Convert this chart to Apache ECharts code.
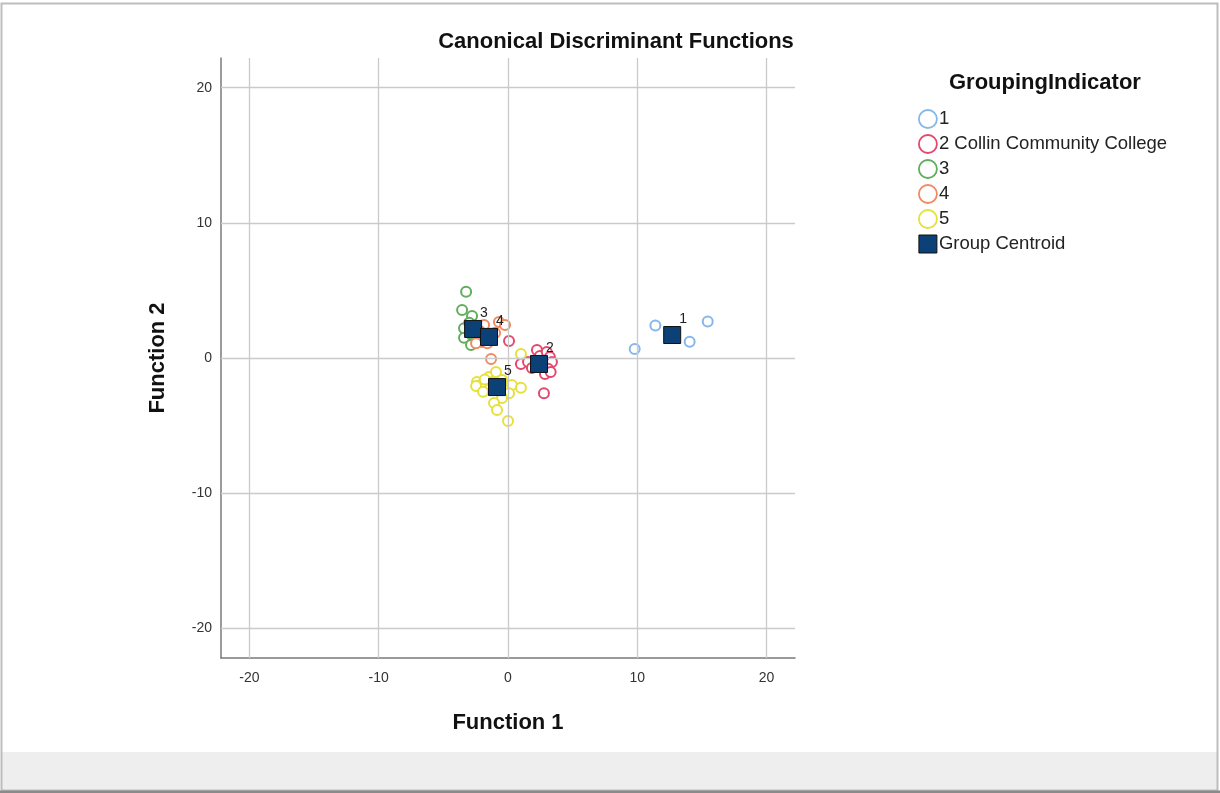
<!DOCTYPE html>
<html>
<head>
<meta charset="utf-8">
<script src="https://cdn.jsdelivr.net/npm/echarts@6/dist/echarts.min.js"></script>
<style>
  html, body { margin: 0; padding: 0; background: #fff; }
  #chart { width: 1220px; height: 793px; }
</style>
</head>
<body>
<div id="chart"></div>
<script>
// discriminant scores, [function 1, function 2]
const group1 = [[9.8, 0.67], [11.4, 2.4], [14.05, 1.2], [15.45, 2.7]];
const group2 = [[0.08, 1.26], [1.0, -0.44], [1.55, -0.3], [1.85, -0.74], [2.24, 0.6], [2.47, 0.15],
  [3.0, 0.44], [3.24, 0.07], [3.4, -0.3], [3.1, -0.8], [2.86, -1.19], [3.3, -1.04], [2.78, -2.6]];
const group3 = [[-3.24, 4.9], [-3.55, 3.56], [-2.78, 3.1], [-3.4, 2.2], [-3.4, 1.5], [-2.86, 0.96],
  [-3.0, 2.6], [-2.3, 1.3], [-2.9, 1.8]];
const group4 = [[-0.7, 2.67], [-0.23, 2.44], [-2.0, 1.19], [-1.6, 1.1], [-2.47, 1.1], [-1.0, 1.85],
  [-1.31, -0.07], [-1.85, 2.44], [-2.2, 2.0]];
const group5 = [[1.0, 0.3], [-2.4, -1.78], [-2.1, -2.0], [-2.47, -2.07], [-1.93, -2.5], [-1.47, -1.4],
  [-0.93, -1.04], [-1.24, -1.78], [-0.46, -1.63], [0.3, -2.0], [1.0, -2.2], [0.08, -2.6],
  [-0.46, -2.96], [-1.08, -3.33], [-0.85, -3.85], [0.0, -4.67], [-1.8, -1.6]];
const centroids = [[12.7, 1.7], [2.4, -0.44], [-2.7, 2.15], [-1.47, 1.56], [-0.85, -2.15]];
const centroidNames = ['1', '2', '3', '4', '5'];
const groupNames = ['1', '2 Collin Community College', '3', '4', '5'];
const groupColors = ['#86b6ec', '#e4486f', '#5fae5b', '#f08a62', '#e6e03a'];
const ticks = [-20, -10, 0, 10, 20];

const chart = echarts.init(document.getElementById('chart'));

const series = [];
// grid lines at the tick values (axis range does not start on a multiple of 10)
series.push({
  type: 'scatter',
  data: [],
  silent: true,
  z: 1,
  markLine: {
    silent: true,
    symbol: 'none',
    animation: false,
    label: { show: false },
    lineStyle: { color: '#cacaca', width: 1.3, type: 'solid' },
    emphasis: { disabled: true },
    data: ticks.map(v => ({ xAxis: v })).concat(ticks.map(v => ({ yAxis: v })))
  }
});

const groups = [group1, group2, group3, group4, group5];
groups.forEach((g, i) => {
  series.push({
    name: groupNames[i],
    type: 'scatter',
    symbol: 'emptyCircle',
    symbolSize: 10,
    data: g,
    itemStyle: { color: groupColors[i], borderColor: groupColors[i], borderWidth: 1.5, opacity: 1 },
    emphasis: { disabled: true },
    z: 2
  });
});
series.push({
  name: 'Group Centroid',
  type: 'scatter',
  symbol: 'rect',
  symbolSize: 17,
  data: centroids.map((c, i) => ({ value: c, name: centroidNames[i] })),
  itemStyle: { color: '#0b4177', borderColor: '#111', borderWidth: 1, opacity: 1 },
  label: {
    show: true,
    formatter: p => p.name,
    position: [16, -14],
    fontFamily: 'Liberation Sans',
    fontSize: 14,
    color: '#222'
  },
  emphasis: { disabled: true },
  z: 5
});

const axisCommon = {
  min: -22.2,
  max: 22.2,
  axisLine: { show: true, onZero: false, lineStyle: { color: '#7a7a7a', width: 1.5 } },
  axisTick: { show: false },
  splitLine: { show: false },
  axisLabel: {
    fontFamily: 'Liberation Sans',
    fontSize: 14,
    color: '#333',
    customValues: ticks,
    formatter: v => String(v)
  },
  nameTextStyle: { fontFamily: 'Liberation Sans', fontSize: 22, fontWeight: 'bold', color: '#111' }
};

chart.setOption({
  animation: false,
  backgroundColor: '#fff',
  title: [
    {
      text: 'Canonical Discriminant Functions',
      left: 611, top: 26, textAlign: 'center',
      textStyle: { fontFamily: 'Liberation Sans', fontSize: 22, fontWeight: 'bold', color: '#111' }
    },
    {
      text: 'GroupingIndicator',
      left: 944, top: 67,
      textStyle: { fontFamily: 'Liberation Sans', fontSize: 22, fontWeight: 'bold', color: '#111' }
    }
  ],
  legend: {
    orient: 'vertical',
    left: 913, top: 104,
    itemWidth: 18, itemHeight: 18,
    itemGap: 5,
    selectedMode: false,
    textStyle: { fontFamily: 'Liberation Sans', fontSize: 18.5, lineHeight: 20, color: '#222', padding: [0, 0, 0, -3] },
    data: groupNames.map((n, i) => ({
      name: n, icon: 'circle',
      itemStyle: { color: 'transparent', borderColor: groupColors[i], borderWidth: 1.8 }
    })).concat([{ name: 'Group Centroid', icon: 'rect', itemStyle: { color: '#0b4177', borderColor: '#111', borderWidth: 1 } }])
  },
  grid: { left: 221, right: 425, top: 58, bottom: 135 },
  xAxis: Object.assign({}, axisCommon, {
    type: 'value',
    name: 'Function 1',
    nameLocation: 'middle',
    nameGap: 54,
    axisLabel: Object.assign({}, axisCommon.axisLabel, { margin: 13 })
  }),
  yAxis: Object.assign({}, axisCommon, {
    type: 'value',
    name: 'Function 2',
    nameLocation: 'middle',
    nameGap: 52,
    axisLabel: Object.assign({}, axisCommon.axisLabel, { margin: 9 })
  }),
  graphic: [
    { type: 'rect', shape: { x: 2, y: 752, width: 1215, height: 38 }, style: { fill: '#eeeeee' }, silent: true },
    { type: 'rect', shape: { x: 1.5, y: 3.5, width: 1216, height: 787 }, style: { fill: 'none', stroke: '#bdbdbd', lineWidth: 2 }, silent: true },
    { type: 'line', shape: { x1: 0, y1: 792, x2: 1220, y2: 792 }, style: { stroke: '#8a8a8a', lineWidth: 3 }, silent: true }
  ],
  series: series
});
</script>
</body>
</html>
